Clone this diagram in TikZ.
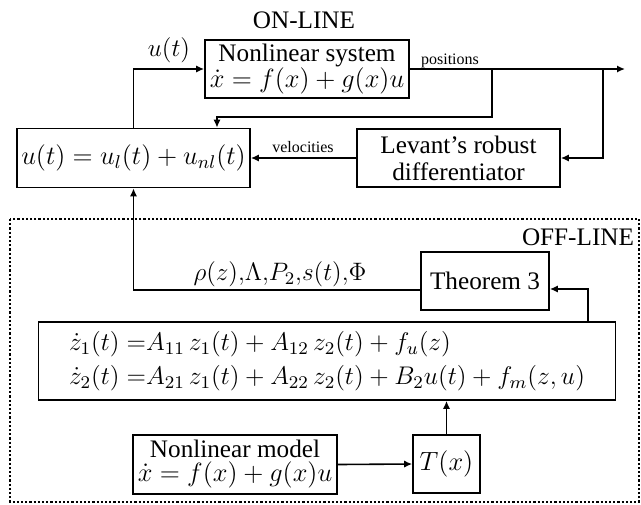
\RequirePackage{fix-cm}
\documentclass[tikz,border=0pt]{standalone}
\usepackage{fontspec}
\setmainfont{Liberation Serif}
\usetikzlibrary{arrows.meta,calc}
% formulas are set a little larger than the surrounding words
\newcommand{\fml}[1]{{\fontsize{13.2pt}{13pt}\selectfont$#1$}}
\begin{document}
\begin{tikzpicture}[x=0.5pt,y=-0.5pt,
  every node/.style={font=\fontsize{12.6pt}{12.5pt}\selectfont},
  blk/.style={draw,line width=0.8pt,align=center,inner sep=1pt},
  wire/.style={line width=0.8pt},
  arr/.style={wire,-{Latex[length=4pt,width=3.6pt]}},
  small/.style={font=\fontsize{8pt}{9pt}\selectfont},
  region/.style={line width=1.1pt,densely dotted}]
\useasboundingbox (0,0) rectangle (641,504);

% off-line region
\draw[region] (10,219) rectangle (639,502);

% titles
\node (on) at (304,20) {ON-LINE};
\node (off) at (578,237) {OFF-LINE};

% on-line blocks
\node[blk,minimum width=102pt,minimum height=29pt] (sys) at (307,69)
  {Nonlinear system\\[-1pt]\fml{\dot x = f(x)+g(x)u}};
\node[blk,minimum width=116.5pt,minimum height=29.5pt] (ctrl) at (133.5,158)
  {\fml{u(t) = u_l(t)+u_{nl}(t)}};
\node[blk,minimum width=101.5pt,minimum height=29pt,
  font=\fontsize{12.6pt}{13.5pt}\selectfont] (lev) at (458.5,158)
  {Levant's robust\\differentiator};

% off-line blocks
\node[blk,minimum width=64pt,minimum height=29pt] (thm) at (485,281) {Theorem 3};
\node[blk,minimum width=288.5pt,minimum height=39pt,
  font=\fontsize{12.75pt}{13pt}\selectfont] (eq) at (327,361)
  {$\renewcommand{\arraystretch}{1.3}\begin{array}{@{}r@{\;}l@{}}
   \dot z_1(t) & {=}A_{11}\,z_1(t)+A_{12}\,z_2(t)+f_u(z)\\
   \dot z_2(t) & {=}A_{21}\,z_1(t)+A_{22}\,z_2(t)+B_2u(t)+f_m(z,u)
   \end{array}$};
\node[blk,minimum width=102pt,minimum height=29.5pt] (model) at (235,464.5)
  {Nonlinear model\\[-0.5pt]\fml{\dot x = f(x)+g(x)u}};
\node[blk,minimum width=33.5pt,minimum height=29pt] (tx) at (446.5,464) {\fml{T(x)}};

% helper points
\coordinate (out) at (625,69);
\coordinate (b1) at (492,69);
\coordinate (b2) at (603,69);
\coordinate (fb) at (217,117);
\coordinate (up) at (588,0);

% on-line connections
\draw[arr] (sys.east) -- (out);
\draw[arr] (b1) |- (fb) -- (fb |- ctrl.north);
\draw[arr] (b2) |- (lev.east);
\draw[arr] (lev.west) -- (ctrl.east);
\draw[arr] (ctrl.north) |- (sys.west);

% off-line connections
\draw[arr] ([yshift=-4.5pt]thm.west) -| (ctrl.south);
\draw[arr] (eq.north -| up) |- ([yshift=-4pt]thm.east);
\draw[arr] (tx.north) -- (tx.north |- eq.south);
\draw[arr] (model.east) -- (tx.west);

% signal labels
\node (ut) at (169,50) {$u(t)$};
\node[small] (pos) at (450,61) {positions};
\node[small] (vel) at (303,147) {velocities};
\node[font=\fontsize{12.6pt}{13pt}\selectfont] (par) at (280,274)
  {$\rho(z){,}\Lambda{,}P_2{,}s(t){,}\Phi$};
\end{tikzpicture}
\end{document}
